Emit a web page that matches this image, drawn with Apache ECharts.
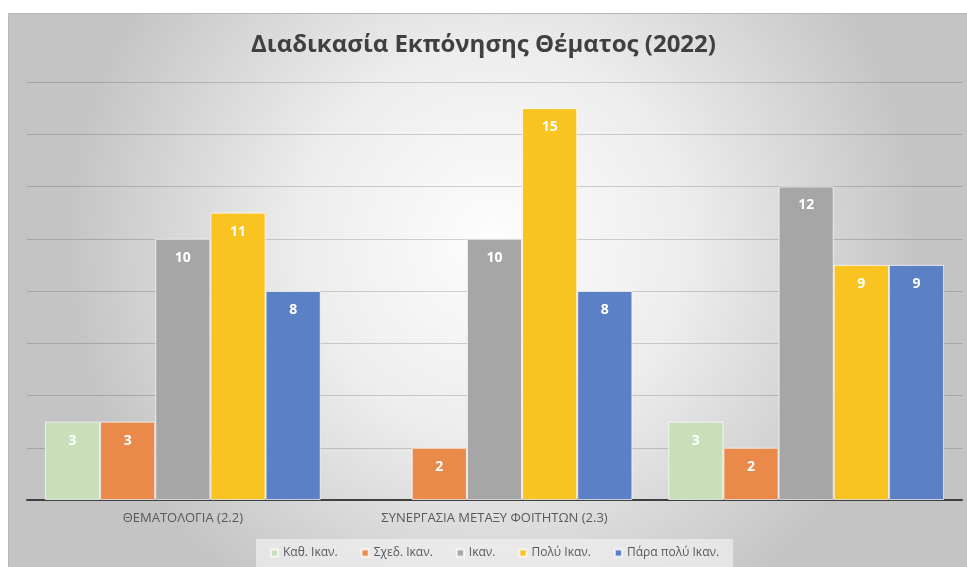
<!DOCTYPE html>
<html>
<head>
<meta charset="utf-8">
<script src="https://cdn.jsdelivr.net/npm/echarts@6/dist/echarts.min.js"></script>
<style>
  html, body { margin: 0; padding: 0; background: #fff; }
  #chart { width: 967px; height: 567px; }
</style>
</head>
<body>
<div id="chart"></div>
<script>
// κατηγορίες (η τρίτη δεν έχει ετικέτα)
var categories = ['ΘΕΜΑΤΟΛΟΓΙΑ (2.2)', 'ΣΥΝΕΡΓΑΣΙΑ ΜΕΤΑΞΥ ΦΟΙΤΗΤΩΝ (2.3)', ''];
var seriesNames = ['Καθ. Ικαν.', 'Σχεδ. Ικαν.', 'Ικαν.', 'Πολύ Ικαν.', 'Πάρα πολύ Ικαν.'];
var kathIkan = [3, null, 3];
var sxedIkan = [3, 2, 2];
var ikan = [10, 10, 12];
var polyIkan = [11, 15, 9];
var paraPolyIkan = [8, 8, 9];
var seriesColors = ['#c9dfb9', '#e9894a', '#a6a6a6', '#f9c322', '#5b80c6'];

var fontFam = '"Open Sans", "Noto Sans", sans-serif';
var values = [kathIkan, sxedIkan, ikan, polyIkan, paraPolyIkan];

var chart = echarts.init(document.getElementById('chart'));

var series = values.map(function (data, i) {
    return {
        name: seriesNames[i],
        type: 'bar',
        data: data,
        barGap: '0%',
        barCategoryGap: '11.5%',
        itemStyle: {
            color: seriesColors[i],
            borderColor: 'rgba(255,255,255,0.7)',
            borderWidth: 1
        },
        label: {
            show: true,
            position: 'insideTop',
            distance: 12,
            color: '#fff',
            fontWeight: 'bold',
            fontSize: 14,
            fontFamily: fontFam
        }
    };
});

chart.setOption({
    animation: false,
    graphic: [{
        type: 'rect',
        z: -10,
        silent: true,
        shape: { x: 8.5, y: 13.5, width: 970, height: 570 },
        style: {
            fill: new echarts.graphic.RadialGradient(0.5, 0.4, 0.75, [
                { offset: 0, color: '#fdfdfd' },
                { offset: 0.45, color: '#ededed' },
                { offset: 1, color: '#c4c4c4' }
            ]),
            stroke: '#b8b8b8',
            lineWidth: 1
        }
    }],
    title: {
        text: 'Διαδικασία Εκπόνησης Θέματος (2022)',
        left: 'center',
        top: 28,
        textStyle: {
            fontFamily: fontFam,
            fontSize: 24,
            fontWeight: 'bold',
            color: '#404040'
        }
    },
    legend: {
        bottom: 0,
        left: 256,
        icon: 'rect',
        itemWidth: 7,
        itemHeight: 7,
        itemGap: 23,
        padding: [8, 14, 8, 14],
        backgroundColor: 'rgba(242,242,242,0.65)',
        textStyle: {
            fontFamily: fontFam,
            fontSize: 12,
            color: '#595959'
        },
        data: seriesNames
    },
    grid: { left: 27, right: 5, top: 82, bottom: 67 },
    xAxis: {
        type: 'category',
        data: categories,
        axisLine: { lineStyle: { color: '#404040', width: 2 } },
        axisTick: { show: false },
        axisLabel: {
            fontFamily: fontFam,
            fontSize: 13,
            color: '#595959',
            margin: 12,
            interval: 0
        }
    },
    yAxis: {
        type: 'value',
        min: 0,
        max: 16,
        interval: 2,
        axisLabel: { show: false },
        axisLine: { show: false },
        axisTick: { show: false },
        splitLine: { lineStyle: { color: 'rgba(0,0,0,0.16)', width: 1 } }
    },
    series: series
});
</script>
</body>
</html>
